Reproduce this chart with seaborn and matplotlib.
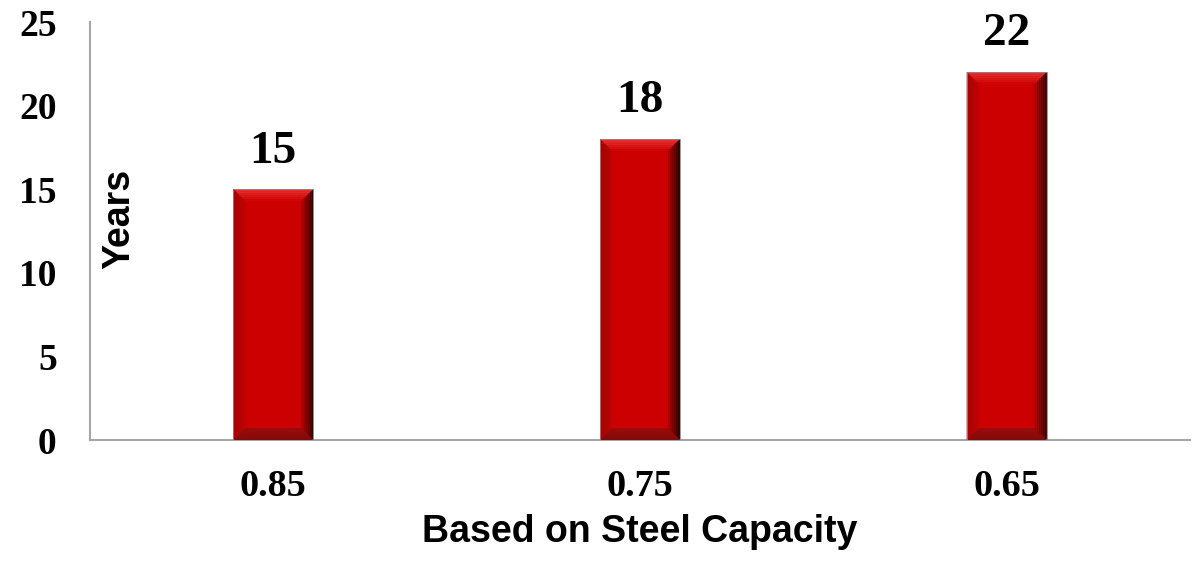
import matplotlib
matplotlib.use("Agg")
import matplotlib.pyplot as plt
from matplotlib.patches import Polygon
import seaborn as sns
import pandas as pd

categories = ["0.85", "0.75", "0.65"]
years = [15, 18, 22]
y_ticks = [0, 5, 10, 15, 20, 25]
x_title = "Based on Steel Capacity"
y_title = "Years"

sns.set_theme(style="white")
plt.rcParams["font.family"] = ["Liberation Serif", "DejaVu Serif"]
plt.rcParams["text.color"] = "black"
plt.rcParams["axes.labelcolor"] = "black"
plt.rcParams["xtick.color"] = "black"
plt.rcParams["ytick.color"] = "black"

df = pd.DataFrame({"cat": categories, "years": years})

fig = plt.figure(figsize=(11.99, 5.65), dpi=100)
ax = fig.add_axes([90 / 1199, 1 - 440 / 565, 1100 / 1199, 418 / 565])

sns.barplot(data=df, x="cat", y="years", color="#CC0000", width=0.218,
            saturation=1, ax=ax, edgecolor="none", zorder=2)

ax.set_ylim(0, 25)
ax.set_xlim(-0.5, 2.5)
ax.set_yticks(y_ticks)
ax.set_yticklabels([str(t) for t in y_ticks], fontsize=27, fontweight="bold",
                   family="Liberation Serif", color="black")
ax.set_xticklabels(categories, fontsize=27.5, fontweight="bold", family="Liberation Serif",
                   color="black")
ax.tick_params(axis="y", length=0, pad=24)
ax.tick_params(axis="x", length=0, pad=21)

for s in ["top", "right"]:
    ax.spines[s].set_visible(False)
for s in ["left", "bottom"]:
    ax.spines[s].set_color("#A6A6A6")
    ax.spines[s].set_linewidth(1.5)

ax.set_xlabel(x_title, fontsize=27, fontweight="bold", family="Liberation Sans",
              labelpad=7, color="black")
ax.set_ylabel(y_title, fontsize=27, fontweight="bold", family="Liberation Sans", color="black")
ax.yaxis.set_label_coords(0.0427, 0.53)

# bevel decoration based on each bar's geometry
fig.canvas.draw()
px_x = ax.transData.transform((1, 0))[0] - ax.transData.transform((0, 0))[0]
px_y = ax.transData.transform((0, 1))[1] - ax.transData.transform((0, 0))[1]
bev = 12
bx = bev / px_x
by = bev / px_y
for p in ax.patches:
    x0, y0 = p.get_x(), p.get_y()
    w, h = p.get_width(), p.get_height()
    x1, y1 = x0 + w, y0 + h
    steps = 6
    for i in range(steps):
        f0 = i / steps
        f1 = (i + 1) / steps
        # coordinates of inner/outer ring strips
        xo0 = x0 + bx * f0
        xo1 = x1 - bx * f0
        yo0 = y0 + by * f0
        yo1 = y1 - by * f0
        xi0 = x0 + bx * f1
        xi1 = x1 - bx * f1
        yi0 = y0 + by * f1
        yi1 = y1 - by * f1
        t = f1
        # top: bright, fading into base
        top_c = (0.93 - 0.12 * t, 0.22 - 0.2 * t, 0.22 - 0.2 * t)
        ax.add_patch(Polygon([(xo0, yo1), (xo1, yo1), (xi1, yi1), (xi0, yi1)],
                             closed=True, facecolor=top_c, edgecolor="none", zorder=3))
        bot_c = (0.50 + 0.1 * t, 0.04, 0.04)
        ax.add_patch(Polygon([(xo0, yo0), (xo1, yo0), (xi1, yi0), (xi0, yi0)],
                             closed=True, facecolor=bot_c, edgecolor="none", zorder=3))
        left_c = (0.62 + 0.1 * t, 0.02, 0.02)
        ax.add_patch(Polygon([(xo0, yo0), (xo0, yo1), (xi0, yi1), (xi0, yi0)],
                             closed=True, facecolor=left_c, edgecolor="none", zorder=3))
        right_c = (0.12 + 0.55 * t, 0.0, 0.0)
        ax.add_patch(Polygon([(xo1, yo0), (xo1, yo1), (xi1, yi1), (xi1, yi0)],
                             closed=True, facecolor=right_c, edgecolor="none", zorder=3))
    ax.add_patch(Polygon([(x0, y0), (x1, y0), (x1, y1), (x0, y1)], closed=True,
                         facecolor="none", edgecolor="#8A8A8A", linewidth=0.6, zorder=4))

ax.bar_label(ax.containers[0], labels=[str(v) for v in years], padding=12,
             fontsize=34, fontweight="bold", family="Liberation Serif", color="black",
             zorder=5)

fig.savefig("out.png", dpi=100)
